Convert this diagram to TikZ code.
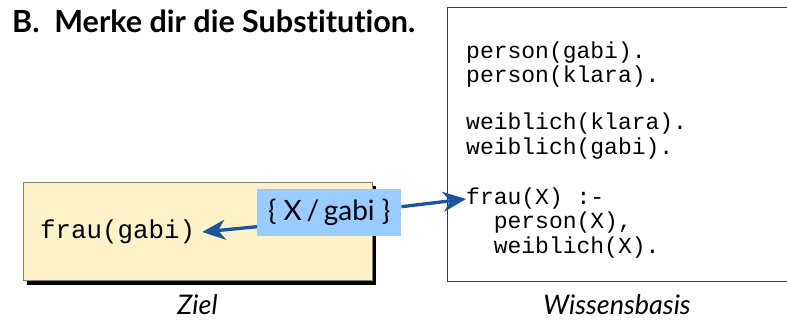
\documentclass[tikz,border=0pt]{standalone}
\usepackage{fontspec}
\setmainfont{Lato}[Ligatures=NoCommon]
\newfontfamily\codefont{Liberation Mono}
\usetikzlibrary{arrows.meta}
\definecolor{goalfill}{HTML}{FFF2C9}
\definecolor{goalline}{HTML}{8A8266}
\definecolor{subfill}{HTML}{99CCFF}
\definecolor{arrowblue}{HTML}{1A55A0}
\definecolor{kbline}{HTML}{3C3C3C}
\tikzset{
  codeline/.style={anchor=west, inner sep=0pt, font=\codefont\fontsize{23}{24}\selectfont},
  caption/.style={anchor=base, inner sep=0pt, font=\itshape\fontsize{27}{30}\selectfont},
  subarrow/.style={draw=arrowblue, line width=3.3pt, -{Stealth[length=23pt,width=20pt,inset=7pt]}},
}
\begin{document}
\begin{tikzpicture}[x=1pt,y=-1pt]
\useasboundingbox (0,0) rectangle (787,320);
\fill[white] (0,0) rectangle (787,320);
\clip (0,0) rectangle (787,320);
% title
\node[anchor=base west, inner sep=0pt, font=\bfseries\fontsize{30.5}{34}\selectfont] (title) at (12,33) {B.\ \ Merke dir die Substitution.};
% goal box
\fill[black] (27,186) rectangle (376,285);
\node[draw=goalline, fill=goalfill, line width=1pt, minimum width=349pt, minimum height=98pt, inner sep=0pt, anchor=north west] (goalbox) at (23,182) {};
\node[anchor=west, inner sep=0pt, font=\codefont\fontsize{25.8}{28}\selectfont] (goal) at (40,232) {frau(gabi)};
\node[caption] (ziel) at (197.5,314) {Ziel};
% knowledge base
\node[draw=kbline, line width=1.3pt, minimum width=360pt, minimum height=274pt, inner sep=0pt, anchor=north west] (kb) at (447,7) {};
\node[codeline] (l1) at (466,53) {person(gabi).};
\node[codeline] (l2) at (466,77) {person(klara).};
\node[codeline] (l3) at (466,124) {weiblich(klara).};
\node[codeline] (l4) at (466,149) {weiblich(gabi).};
\node[codeline] (l5) at (466,199) {frau(X) :-};
\node[codeline] (l6) at (466,223) {\ \ person(X),};
\node[codeline] (l7) at (466,248) {\ \ weiblich(X).};
\node[caption] (wb) at (617,314) {Wissensbasis};
% substitution label
\node[fill=subfill, minimum width=144pt, minimum height=47pt, inner sep=0pt, anchor=north west, font=\fontsize{28}{30}\selectfont] (sub) at (257,189) {\{ X\,/\,gabi \}};
% arrows
\draw[subarrow] ([yshift=-14pt]sub.west) -- ([xshift=7pt]goal.east);
\draw[subarrow] ([yshift=6pt]sub.east) -- (l5.west);
\end{tikzpicture}
\end{document}
